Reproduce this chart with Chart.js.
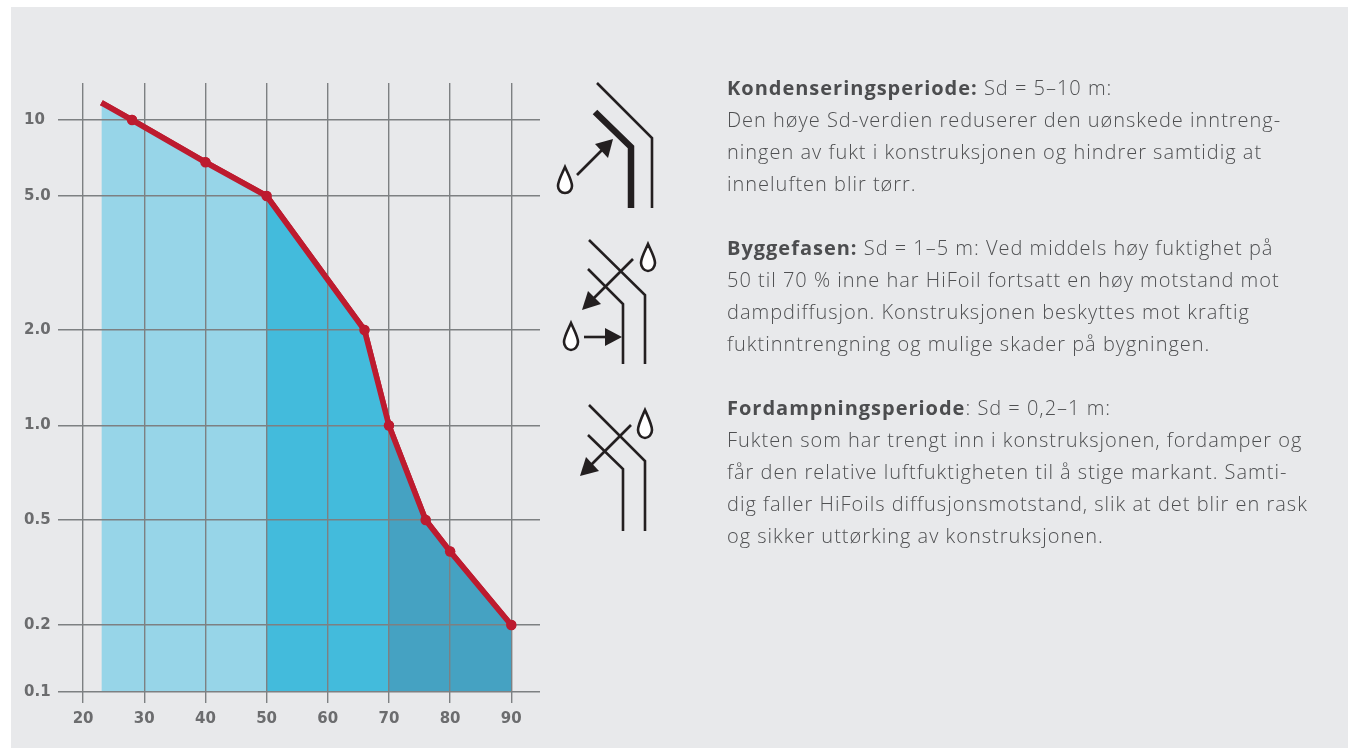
<!DOCTYPE html>
<html>
<head>
<meta charset="utf-8">
<script src="https://cdn.jsdelivr.net/npm/chart.js@4"></script>
<style>
html, body { margin: 0; padding: 0; background: #fff; overflow: hidden; }
#panel { position: absolute; left: 11px; top: 7px; width: 1337px; height: 741px; background: #e8e9eb; }
#wrap { position: absolute; left: 0; top: 0; width: 1348px; height: 748px; }
#icons { position: absolute; left: 0; top: 0; }
.txt { position: absolute; left: 727px; margin: 0; font: 300 20px/32px "Open Sans", sans-serif; letter-spacing: .99px; color: #4f5052; white-space: nowrap; }
.txt b { font-weight: 700; color: #4c4d4f; }
</style>
</head>
<body>
<div id="panel"></div>
<div id="wrap"><canvas id="myChart" width="1348" height="748"></canvas></div>
<svg id="icons" width="1348" height="748" fill="none" stroke="#231f20" stroke-width="2.6">
  <path d="M597 83L652 138V208"/>
  <path d="M595 112L631 147V208" stroke-width="6.5"/>
  <path d="M577 175L604 148"/>
  <path d="M613 139L595 144L608 158Z" fill="#231f20" stroke="none"/>
  <path d="M565 167C561 176 558 181 558 186C558 190 561 193 565 193C569 193 572 190 572 186C572 181 569 176 565 167Z" fill="#fff"/>

  <path d="M589 240L645 295V364"/>
  <path d="M588 269L623 304V364"/>
  <path d="M633 259L592 300"/>
  <path d="M582 310L588 291L601 304Z" fill="#231f20" stroke="none"/>
  <path d="M648 244C644 253 641 258 641 263C641 267 644 271 648 271C652 271 655 267 655 263C655 258 652 253 648 244Z" fill="#fff"/>
  <path d="M571 323C567 332 564 337 564 342C564 346 567 350 571 350C575 350 578 346 578 342C578 337 575 332 571 323Z" fill="#fff"/>
  <path d="M584 337H607"/>
  <path d="M622 337L605 328V346Z" fill="#231f20" stroke="none"/>

  <path d="M589 405L645 461V531"/>
  <path d="M588 435L623 469V531"/>
  <path d="M631 425L590 466"/>
  <path d="M580 476L586 457L599 471Z" fill="#231f20" stroke="none"/>
  <path d="M645 410C641 419 638 425 638 430C638 434 641 438 645 438C649 438 652 434 652 430C652 425 649 419 645 410Z" fill="#fff"/>
</svg>
<p class="txt" style="top:72px"><b>Kondenseringsperiode:</b> Sd = 5–10 m:<br>Den høye Sd-verdien reduserer den uønskede inntreng-<br>ningen av fukt i konstruksjonen og hindrer samtidig at<br>inneluften blir tørr.</p>
<p class="txt" style="top:232px"><b>Byggefasen:</b> Sd = 1–5 m: Ved middels høy fuktighet på<br>50 til 70 % inne har HiFoil fortsatt en høy motstand mot<br>dampdiffusjon. Konstruksjonen beskyttes mot kraftig<br>fuktinntrengning og mulige skader på bygningen.</p>
<p class="txt" style="top:392px"><b>Fordampningsperiode</b>: Sd = 0,2–1 m:<br>Fukten som har trengt inn i konstruksjonen, fordamper og<br>får den relative luftfuktigheten til å stige markant. Samti-<br>dig faller HiFoils diffusjonsmotstand, slik at det blir en rask<br>og sikker uttørking av konstruksjonen.</p>
<script>
// humidity (x) against Sd value (y)
var humidity = [23, 28, 40, 50, 66, 70, 76, 80, 90];
var sdValues = [11.7, 10, 6.8, 5, 2, 1, 0.5, 0.38, 0.2];
var lowHumidity = [23, 28, 40, 50];
var lowSd = [11.7, 10, 6.8, 5];
var midHumidity = [50, 66, 70];
var midSd = [5, 2, 1];
var highHumidity = [70, 76, 80, 90];
var highSd = [1, 0.5, 0.38, 0.2];
var xTicks = [20, 30, 40, 50, 60, 70, 80, 90];
var yTicks = [0.1, 0.2, 0.5, 1, 2, 5, 10];
var yTickLabels = ["0.1", "0.2", "0.5", "1.0", "2.0", "5.0", "10"];

function xy(xs, ys) {
    return xs.map(function (x, i) { return {x: x, y: ys[i]}; });
}

// the printed y axis is log-like but not evenly spaced, so the scale is stretched between stops
var yStops = [
    [0.0865, 706], [0.1, 692], [0.2, 625], [0.5, 520], [1, 425.5], [2, 330], [5, 196], [10, 120], [14, 83]
];

class StopScale extends Chart.LinearScale {
    getPixelForValue(v) {
        var s = yStops, i = 0;
        while (i < s.length - 2 && v > s[i + 1][0]) i++;
        var f = (Math.log(v) - Math.log(s[i][0])) / (Math.log(s[i + 1][0]) - Math.log(s[i][0]));
        return s[i][1] + f * (s[i + 1][1] - s[i][1]);
    }
}
StopScale.id = "stops";
StopScale.defaults = Chart.LinearScale.defaults;
Chart.register(StopScale);

// gridlines sit over the fills, the red line goes back on top of them
var lineOnTop = {
    id: "lineOnTop",
    afterDraw: function (chart) {
        chart.getDatasetMeta(3).controller.draw();
    }
};

var tickFont = {family: "'DejaVu Sans', sans-serif", size: 15, weight: "bold"};

function fillSet(data, color) {
    return {data: data, borderWidth: 0, pointRadius: 0, backgroundColor: color, fill: {value: 0.1}};
}

new Chart(document.getElementById("myChart"), {
    type: "line",
    data: {
        datasets: [
            fillSet(xy(lowHumidity, lowSd), "#97d5e8"),
            fillSet(xy(midHumidity, midSd), "#43bbdc"),
            fillSet(xy(highHumidity, highSd), "#45a2c2"),
            {
                data: xy(humidity, sdValues),
                borderColor: "#bd1b2f",
                backgroundColor: "#bd1b2f",
                borderWidth: 5.6,
                fill: false,
                pointBorderWidth: 0,
                pointRadius: function (ctx) { return ctx.dataIndex === 0 ? 0 : 5.2; }
            }
        ]
    },
    options: {
        responsive: false,
        animation: false,
        layout: {padding: {left: 24, top: 83, right: 808, bottom: 13}},
        plugins: {legend: {display: false}, tooltip: {enabled: false}},
        scales: {
            x: {
                type: "linear",
                min: 15.9,
                max: 94.7,
                afterBuildTicks: function (s) { s.ticks = xTicks.map(function (v) { return {value: v}; }); },
                grid: {z: 1, color: "#7d8082", lineWidth: 1.4, drawTicks: false},
                border: {display: false},
                ticks: {color: "#6b6c6e", font: tickFont, padding: 7, autoSkip: false, maxRotation: 0}
            },
            y: {
                type: "stops",
                min: 0.0865,
                max: 14,
                afterBuildTicks: function (s) { s.ticks = yTicks.map(function (v) { return {value: v}; }); },
                afterFit: function (s) { s.width = 34; },
                grid: {z: 1, color: "#7d8082", lineWidth: 1.4, drawTicks: false},
                border: {display: false},
                ticks: {
                    color: "#6b6c6e",
                    font: tickFont,
                    crossAlign: "far",
                    autoSkip: false,
                    callback: function (v, i) { return yTickLabels[i]; }
                }
            }
        }
    },
    plugins: [lineOnTop]
});
</script>
</body>
</html>
